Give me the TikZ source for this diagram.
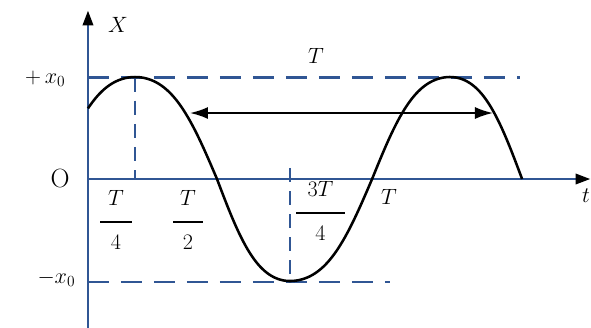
\documentclass[tikz,border=0pt]{standalone}
\usepackage{fix-cm}
\usepackage{amsmath}
\usetikzlibrary{arrows.meta}
\definecolor{axisblue}{RGB}{48,86,148}
\newcommand{\wfrac}[3]{\genfrac{}{}{1.6pt}{0}{\rule[-10.4pt]{0pt}{10.4pt}\makebox[#1]{$#2$}}{\rule{0pt}{20.7pt}#3}}
\begin{document}
\begin{tikzpicture}[
  declare function={wv(\p)=3.4*cos(\p)*(1+0.2*sin(\p)^2);},
  ax line/.style={draw=axisblue,line width=2.8pt},
  guide line/.style={draw=axisblue,line width=2.4pt,dash pattern=on 0.7cm off 0.4cm},
  drop line/.style={draw=axisblue,line width=2.4pt,dash pattern=on 0.47cm off 0.3cm},
  wave line/.style={line width=2.4pt,samples=40,smooth},
  lbl/.style={font=\fontsize{21}{25}\selectfont,inner sep=0pt}]
  \useasboundingbox (-2.933,-4.933) rectangle (16.767,5.967);
  \draw[guide line] (0,3.38)--(14.4,3.38);
  \draw[guide line] (0,-3.43)--(10.07,-3.43);
  \draw[drop line] (1.57,3.38)--(1.57,0);
  \draw[drop line] (6.73,0.37)--(6.73,-3.43);
  \draw[ax line,-{Triangle[color=black,length=0.5cm,width=0.34cm]}] (0,0)--(16.75,0);
  \draw[ax line,-{Triangle[color=black,length=0.5cm,width=0.34cm]}] (0,-4.95)--(0,5.62);
  % displacement curve, one quarter at a time
  \draw[wave line] plot[domain=0:1.57] (\x,{wv(52*(\x-1.57)/1.57)})
    -- plot[domain=1.57:4.30] (\x,{wv(90*(\x-1.57)/2.73)})
    -- plot[domain=4.30:6.73] (\x,{wv(90+90*(\x-4.30)/2.43)})
    -- plot[domain=6.73:9.47] (\x,{wv(180+90*(\x-6.73)/2.74)})
    -- plot[domain=9.47:12.07] (\x,{wv(270+90*(\x-9.47)/2.60)})
    -- plot[domain=12.07:14.47] (\x,{wv(360+90*(\x-12.07)/2.40)});
  \coordinate (lft) at (3.40,2.2);
  \coordinate (rgt) at (13.5,2.2);
  \draw[line width=1.8pt,{Latex[length=0.6cm,width=0.4cm]}-{Latex[length=0.6cm,width=0.4cm]}] (lft)--(rgt);
  \node[lbl] (plab) at (7.6,4.1) {$T$};
  \node[lbl] (xlab) at (1.0,5.15) {$X$};
  \node[lbl,anchor=base east] (pxo) at (-0.75,3.2) {$+\,x_0$};
  \node[lbl,anchor=base east] (mxo) at (-0.42,-3.47) {$-x_0$};
  \node[lbl,font=\fontsize{25}{28}\selectfont] (olab) at (-0.93,0.03) {O};
  \node[lbl,anchor=base] (qone) at (0.93,-1.62) {$\wfrac{30pt}{T}{4}$};
  \node[lbl,anchor=base] (qtwo) at (3.33,-1.62) {$\wfrac{28pt}{T}{2}$};
  \node[lbl,anchor=base] (qthree) at (7.75,-1.32) {$\wfrac{46pt}{3T}{4}$};
  \node[lbl] (tper) at (10.03,-0.6) {$T$};
  \node[lbl,anchor=east] (tlab) at (16.74,-0.55) {$t$};
\end{tikzpicture}
\end{document}
